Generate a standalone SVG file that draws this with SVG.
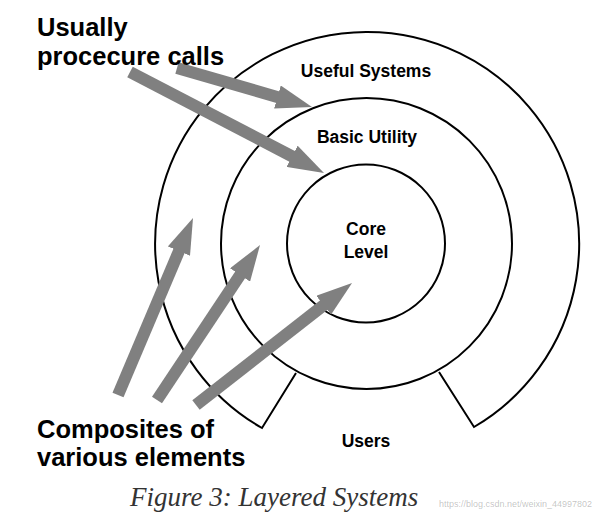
<svg xmlns="http://www.w3.org/2000/svg" width="601" height="526" viewBox="0 0 601 526">
<style>
.ring{fill:none;stroke:#000;stroke-width:2}
.arr{stroke:#808080;stroke-width:12;marker-end:url(#h)}
.big{font-family:"Liberation Sans",Arial,sans-serif;font-weight:bold;font-size:25.5px;fill:#000}
.lbl{font-family:"Liberation Sans",Arial,sans-serif;font-weight:bold;font-size:17.5px;fill:#000;text-anchor:middle}
</style>
<defs>
<marker id="h" viewBox="0 0 3 2" refX="0.5" refY="1" markerWidth="3" markerHeight="2" orient="auto" markerUnits="strokeWidth">
<path d="M0,0 L3,1 L0,2 z" fill="#808080"/>
</marker>
</defs>
<rect width="601" height="526" fill="#fff"/>
<g id="useful-systems">
<path class="ring" d="M296,373 L262,428 A212,212 0 1 1 474,427 L439,372"/>
<text class="lbl" x="366" y="77">Useful Systems</text>
</g>
<g id="basic-utility">
<circle class="ring" cx="366.5" cy="243.5" r="145.5"/>
<text class="lbl" x="367" y="143">Basic Utility</text>
</g>
<g id="core-level">
<circle class="ring" cx="366" cy="243.5" r="79"/>
<text class="lbl" x="366" y="235">Core</text>
<text class="lbl" x="366" y="258">Level</text>
</g>
<g id="users"><text class="lbl" x="366" y="447">Users</text></g>
<g id="connectors">
<line class="arr" x1="177" y1="68" x2="283.2" y2="98.7"/>
<line class="arr" x1="130" y1="72" x2="297.4" y2="159.1"/>
<line class="arr" x1="118" y1="395" x2="181.3" y2="245.6"/>
<line class="arr" x1="157" y1="400" x2="243.4" y2="270"/>
<line class="arr" x1="196" y1="405" x2="328.4" y2="301.5"/>
</g>
<g id="label-calls">
<text class="big" x="37" y="36">Usually</text>
<text class="big" x="37" y="65">procecure calls</text>
</g>
<g id="label-composites">
<text class="big" x="37" y="438">Composites of</text>
<text class="big" x="37" y="466">various elements</text>
</g>
<text x="130" y="506" font-family="Liberation Serif,serif" font-style="italic" font-size="27" fill="#333">Figure 3: Layered Systems</text>
<text x="592" y="507" text-anchor="end" font-family="Liberation Sans,sans-serif" font-size="9" fill="#000" fill-opacity="0.25">https://blog.csdn.net/weixin_44997802</text>
</svg>
